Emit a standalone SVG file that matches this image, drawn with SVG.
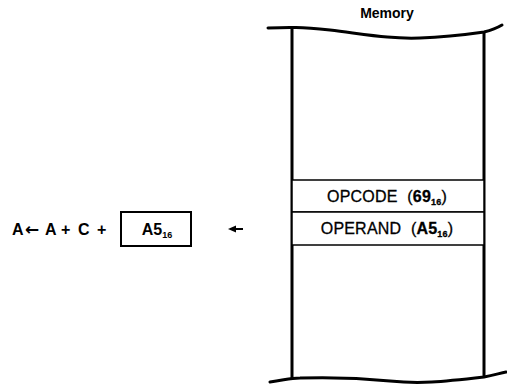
<svg xmlns="http://www.w3.org/2000/svg" width="507" height="386" viewBox="0 0 507 386">
<style>
text{font-family:"Liberation Sans",Arial,sans-serif;fill:#000}
.b{font-weight:bold}
.arr{font-family:"DejaVu Sans",sans-serif;font-weight:bold}
.wall{stroke:#000;stroke-width:3;fill:none}
.wave{stroke:#000;stroke-width:3;fill:none;stroke-linecap:round}
.cell{stroke:#000;stroke-width:1.5;fill:#fff}
.lbl{font-size:16px;stroke:#000;stroke-width:0.3;letter-spacing:0.2px}
.sub{font-size:9px;font-weight:bold}
.conn{stroke:#000;stroke-width:2;fill:none}
</style>
<defs>
<marker id="ah" viewBox="0 0 8 8" refX="4" refY="4" markerWidth="8" markerHeight="8" orient="auto" markerUnits="userSpaceOnUse">
<path d="M8,4 L0,0.5 L0,7.5 Z" fill="#000"/>
</marker>
</defs>
<rect width="507" height="386" fill="#fff"/>
<g id="memory">
<text x="387" y="18" font-size="14" text-anchor="middle" class="b">Memory</text>
<path class="wave" d="M268,28 C290,27 300,27 330,30 C370,35 390,39 420,38 C450,37 470,34 484,32 C492,30 497,28 502,25"/>
<line class="wall" x1="292" y1="28" x2="292" y2="378"/>
<line class="wall" x1="484" y1="32" x2="484" y2="377"/>
<path class="wave" d="M270,382 C285,380 290,378 300,378 C330,377 360,378 390,381 C420,384 440,382 484,377 C495,375 500,373 506,372"/>
</g>
<g id="opcode">
<rect class="cell" x="292" y="180" width="192" height="32"/>
<text x="387" y="202" class="lbl" text-anchor="middle">OPCODE <tspan dx="5">(</tspan><tspan class="b">69</tspan><tspan class="sub" dy="3">16</tspan><tspan dy="-3">)</tspan></text>
</g>
<g id="operand">
<rect class="cell" x="292" y="212" width="192" height="33"/>
<text x="387" y="234" class="lbl" text-anchor="middle">OPERAND <tspan dx="5">(</tspan><tspan class="b">A5</tspan><tspan class="sub" dy="3">16</tspan><tspan dy="-3">)</tspan></text>
</g>
<g id="expr">
<text y="235" font-size="16" class="b"><tspan x="12">A</tspan><tspan x="25" class="arr" font-size="17">←</tspan><tspan x="45">A</tspan><tspan x="61">+</tspan><tspan x="78">C</tspan><tspan x="97">+</tspan></text>
</g>
<g id="immediate">
<rect x="121" y="212" width="70" height="34" fill="#fff" stroke="#000" stroke-width="2"/>
<text x="157" y="235" font-size="16" text-anchor="middle" class="b">A5<tspan class="sub" dy="3">16</tspan></text>
</g>
<g id="connectors">
<path class="conn" d="M243,229 L232,229" marker-end="url(#ah)"/>
</g>
</svg>
